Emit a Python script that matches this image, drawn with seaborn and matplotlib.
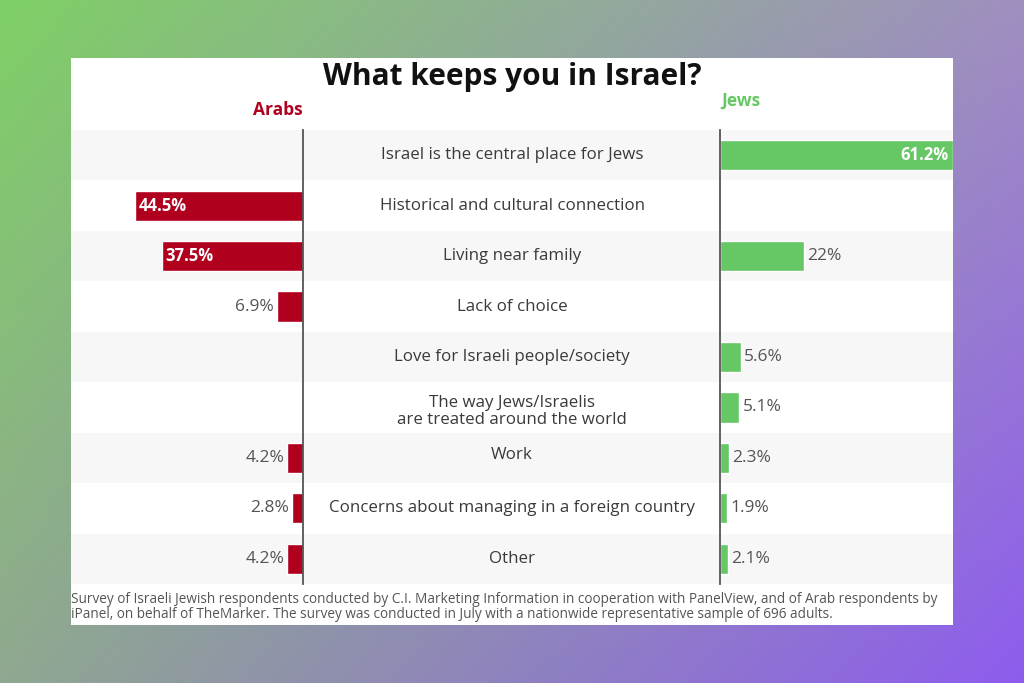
import matplotlib
matplotlib.use("Agg")
import matplotlib.pyplot as plt
import matplotlib.patches as mpatches
import numpy as np
import pandas as pd
import seaborn as sns

categories = [
    "Israel is the central place for Jews",
    "Historical and cultural connection",
    "Living near family",
    "Lack of choice",
    "Love for Israeli people/society",
    "The way Jews/Israelis\nare treated around the world",
    "Work",
    "Concerns about managing in a foreign country",
    "Other",
]
arabs = [np.nan, 44.5, 37.5, 6.9, np.nan, np.nan, 4.2, 2.8, 4.2]
arabs_labels = ["", "44.5%", "37.5%", "6.9%", "", "", "4.2%", "2.8%", "4.2%"]
jews = [61.2, np.nan, 22, np.nan, 5.6, 5.1, 2.3, 1.9, 2.1]
jews_labels = ["61.2%", "", "22%", "", "5.6%", "5.1%", "2.3%", "1.9%", "2.1%"]

title = "What keeps you in Israel?"
footnote = ("Survey of Israeli Jewish respondents conducted by C.I. Marketing Information in cooperation with PanelView, and of Arab respondents by\n"
            "iPanel, on behalf of TheMarker. The survey was conducted in July with a nationwide representative sample of 696 adults.")

RED = "#b0001e"
GREEN = "#66c864"
TEXT = "#3a3a3a"

sns.set_theme(style="white")
plt.rcParams["font.family"] = ["Open Sans", "DejaVu Sans"]

W, H = 1024, 683
fig = plt.figure(figsize=(W / 100, H / 100), dpi=100)


def fx(px):
    return px / W


def fy(py):
    return 1 - py / H


# gradient background
bg = fig.add_axes([0, 0, 1, 1])
tl = np.array([0x7f, 0xd0, 0x66]) / 255
tr = np.array([0xa0, 0x8f, 0xc0]) / 255
bl = np.array([0x90, 0xa8, 0x90]) / 255
br = np.array([0x8e, 0x5c, 0xee]) / 255
u = np.linspace(0, 1, 256)[None, :, None]
v = np.linspace(0, 1, 256)[:, None, None]
grad = (1 - v) * ((1 - u) * tl + u * tr) + v * ((1 - u) * bl + u * br)
bg.imshow(grad, aspect="auto", extent=[0, 1, 0, 1], origin="upper")
bg.axis("off")

# white card
fig.patches.append(mpatches.Rectangle((fx(71), fy(625)), fx(953 - 71), (625 - 58) / H,
                                      transform=fig.transFigure, facecolor="white",
                                      edgecolor="none", zorder=1))

top, bottom = 130, 584
n = len(categories)

# background bands + center labels
main = fig.add_axes([fx(71), fy(bottom), fx(953 - 71), (bottom - top) / H], zorder=2)
main.set_xlim(0, 1)
main.set_ylim(n - 0.5, -0.5)
label_shift = {5: 0.08, 6: -0.06}
for i in range(n):
    if i % 2 == 0:
        main.axhspan(i - 0.5, i + 0.5, color="#f7f7f7", lw=0)
    main.text(0.5, i + label_shift.get(i, 0), categories[i], ha="center", va="center",
              fontsize=12.2, color=TEXT, linespacing=1.08)
main.axis("off")

df = pd.DataFrame({"category": categories, "arabs": arabs, "jews": jews})

# Arabs panel (left)
axl = fig.add_axes([fx(71), fy(bottom), fx(303 - 71), (bottom - top) / H], zorder=3)
axl.patch.set_alpha(0)
sns.barplot(data=df, x="arabs", y="category", order=categories, color=RED,
            width=0.6, orient="h", ax=axl, saturation=1)
axl.set_xlim(232 / 3.77, 0)
axl.set_ylim(n - 0.5, -0.5)
for i, (val, lab) in enumerate(zip(arabs, arabs_labels)):
    if np.isnan(val):
        continue
    if val > 20:
        axl.text(val - 1, i, lab, ha="left", va="center", color="white",
                 fontsize=12, fontweight="bold")
    else:
        axl.text(val + 0.8, i, lab, ha="right", va="center", color="#555555", fontsize=12.5)

# Jews panel (right)
axr = fig.add_axes([fx(720), fy(bottom), fx(953 - 720), (bottom - top) / H], zorder=3)
axr.patch.set_alpha(0)
sns.barplot(data=df, x="jews", y="category", order=categories, color=GREEN,
            width=0.6, orient="h", ax=axr, saturation=1)
axr.set_xlim(0, 233 / 3.8)
axr.set_ylim(n - 0.5, -0.5)
for i, (val, lab) in enumerate(zip(jews, jews_labels)):
    if np.isnan(val):
        continue
    if val > 40:
        axr.text(val - 1, i, lab, ha="right", va="center", color="white",
                 fontsize=12, fontweight="bold")
    else:
        axr.text(val + 0.8, i, lab, ha="left", va="center", color="#555555", fontsize=12.5)

for ax, side in ((axl, "right"), (axr, "left")):
    ax.set_xlabel("")
    ax.set_ylabel("")
    ax.set_xticks([])
    ax.set_yticks([])
    for s in ax.spines.values():
        s.set_visible(False)
    ax.spines[side].set_visible(True)
    ax.spines[side].set_color("#555555")
    ax.spines[side].set_linewidth(1.3)

fig.text(0.5, fy(77), title, ha="center", va="center", fontsize=21.5,
         fontweight="bold", color="#111111", zorder=4)
fig.text(fx(303), fy(110), "Arabs", ha="right", va="center", fontsize=12.5,
         fontweight="bold", color=RED, zorder=4)
fig.text(fx(721), fy(101), "Jews", ha="left", va="center", fontsize=12.5,
         fontweight="bold", color=GREEN, zorder=4)
fig.text(fx(71), fy(607), footnote, ha="left", va="center", fontsize=9.8,
         color="#555555", linespacing=1.0, zorder=4)

fig.savefig("out.png", dpi=100)
